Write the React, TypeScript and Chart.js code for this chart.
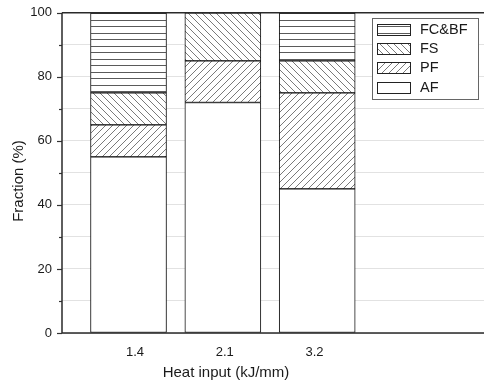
import React, { useEffect, useRef } from 'react';
import { Chart, registerables } from 'chart.js';

Chart.register(...registerables);

const categories = ['1.4', '2.1', '3.2'];
const positions = [1, 2, 3];
const seriesNames = ['AF', 'PF', 'FS', 'FC&BF'];
const AF = [55, 72, 45];
const PF = [10, 13, 30];
const FS = [10, 15, 10];
const FCBF = [25, 0, 15];
const yTickLabels = [0, 20, 40, 60, 80, 100];
const xTitle = 'Heat input (kJ/mm)';
const yTitle = 'Fraction (%)';

const FONT = 'Liberation Sans, Arial, sans-serif';

function makePattern(kind: string): CanvasPattern | string {
  if (kind === 'none') return '#ffffff';
  const c = document.createElement('canvas');
  const g = c.getContext('2d') as CanvasRenderingContext2D;
  if (kind === 'h') {
    c.width = 8;
    c.height = 13;
    g.fillStyle = '#ffffff';
    g.fillRect(0, 0, 8, 13);
    g.strokeStyle = '#5a5a5a';
    g.lineWidth = 1;
    g.beginPath();
    g.moveTo(0, 0.5);
    g.lineTo(8, 0.5);
    g.moveTo(0, 7.5);
    g.lineTo(8, 7.5);
    g.stroke();
  } else {
    const s = 7;
    c.width = s;
    c.height = s;
    g.fillStyle = '#ffffff';
    g.fillRect(0, 0, s, s);
    g.strokeStyle = '#7a7a7a';
    g.lineWidth = 1;
    g.beginPath();
    if (kind === 'b') {
      g.moveTo(-1, -1); g.lineTo(s + 1, s + 1);
      g.moveTo(-1, s - 1); g.lineTo(1, s + 1);
      g.moveTo(s - 1, -1); g.lineTo(s + 1, 1);
    } else {
      g.moveTo(-1, s + 1); g.lineTo(s + 1, -1);
      g.moveTo(-1, 1); g.lineTo(1, -1);
      g.moveTo(s - 1, s + 1); g.lineTo(s + 1, s - 1);
    }
    g.stroke();
  }
  const ctx = document.createElement('canvas').getContext('2d') as CanvasRenderingContext2D;
  return ctx.createPattern(c, 'repeat') as CanvasPattern;
}

export default function App() {
  const ref = useRef<HTMLCanvasElement | null>(null);

  useEffect(() => {
    document.body.style.margin = '0';
    const canvas = ref.current;
    if (!canvas) return;
    Chart.defaults.font.family = FONT;

    const fills = [makePattern('none'), makePattern('f'), makePattern('b'), makePattern('h')];
    const values = [AF, PF, FS, FCBF];

    const datasets = seriesNames.map((name, k) => ({
      label: name,
      data: positions.map((p, i) => ({ x: p, y: values[k][i] })),
      backgroundColor: fills[k] as any,
      borderColor: '#111111',
      borderWidth: 1,
      borderSkipped: false as any,
      barThickness: 76,
      xAxisID: 'x',
      yAxisID: 'y',
    }));

    const decor = {
      id: 'decor',
      afterDraw(chart: any) {
        const { ctx, chartArea } = chart;
        const { left, right, top, bottom } = chartArea;
        const yScale = chart.scales.y;
        ctx.save();
        ctx.strokeStyle = '#333333';
        ctx.lineWidth = 1.2;
        for (let v = 0; v <= 100; v += 10) {
          const y = Math.round(yScale.getPixelForValue(v)) + 0.5;
          const len = v % 20 === 0 ? 5 : 3;
          ctx.beginPath();
          ctx.moveTo(left - len, y);
          ctx.lineTo(left, y);
          ctx.stroke();
        }
        ctx.strokeStyle = '#2a2a2a';
        ctx.lineWidth = 1.5;
        ctx.beginPath();
        ctx.moveTo(left, top);
        ctx.lineTo(left, bottom);
        ctx.moveTo(left, bottom);
        ctx.lineTo(right, bottom);
        ctx.moveTo(left, top);
        ctx.lineTo(right, top);
        ctx.stroke();

        const lx = 372.5, ly = 18.5, lw = 106, lh = 81;
        ctx.fillStyle = '#ffffff';
        ctx.fillRect(lx, ly, lw, lh);
        ctx.strokeStyle = '#666666';
        ctx.lineWidth = 1;
        ctx.strokeRect(lx, ly, lw, lh);
        const order = [3, 2, 1, 0];
        order.forEach((k, r) => {
          const cy = 29 + r * 19.4;
          const sy = Math.round(cy - 5.5) + 0.5;
          ctx.fillStyle = fills[k] as any;
          ctx.fillRect(377.5, sy, 33, 11);
          ctx.strokeStyle = '#222222';
          ctx.lineWidth = 1;
          ctx.strokeRect(377.5, sy, 33, 11);
          ctx.fillStyle = '#1a1a1a';
          ctx.font = `14.5px ${FONT}`;
          ctx.textAlign = 'left';
          ctx.textBaseline = 'middle';
          ctx.fillText(seriesNames[k], 420, cy + 0.5);
        });

        ctx.fillStyle = '#1a1a1a';
        ctx.font = `15px ${FONT}`;
        ctx.textAlign = 'center';
        ctx.textBaseline = 'alphabetic';
        ctx.fillText(xTitle, 226, 377);
        ctx.save();
        ctx.translate(23, 181);
        ctx.rotate(-Math.PI / 2);
        ctx.fillText(yTitle, 0, 0);
        ctx.restore();
        ctx.restore();
      },
    };

    const chart = new Chart(canvas, {
      type: 'bar',
      data: { datasets: datasets as any },
      options: {
        animation: false,
        responsive: false,
        layout: { padding: { top: 12, right: 0, left: 0, bottom: 0 } },
        plugins: { legend: { display: false }, tooltip: { enabled: false } },
        scales: {
          x: {
            type: 'linear',
            display: false,
            stacked: true,
            offset: false,
            grid: { offset: false },
            min: 0.295,
            max: 4.768,
          },
          xt: {
            type: 'linear',
            position: 'bottom',
            offset: false,
            min: 0.187,
            max: 4.889,
            grid: { display: false, drawTicks: false, offset: false },
            border: { display: false },
            ticks: {
              padding: 12,
              autoSkip: false,
              maxRotation: 0,
              color: '#1a1a1a',
              font: { size: 13, family: FONT },
              callback: (v: any) => {
                const i = positions.indexOf(Number(v));
                return i >= 0 ? categories[i] : '';
              },
            },
            afterBuildTicks: (s: any) => {
              s.ticks = positions.map((v) => ({ value: v }));
            },
            afterFit: (s: any) => {
              s.height = 50;
            },
          },
          y: {
            stacked: true,
            min: 0,
            max: 100,
            ticks: {
              stepSize: 10,
              padding: 5,
              autoSkip: false,
              color: '#1a1a1a',
              font: { size: 13, family: FONT },
              callback: (v: any) => (yTickLabels.includes(Number(v)) ? String(v) : ''),
            },
            grid: { color: '#e2e2e2', lineWidth: 1, drawTicks: true, tickLength: 5, tickColor: 'rgba(0,0,0,0)' },
            border: { display: false },
            afterFit: (s: any) => {
              s.width = 62;
            },
          },
        } as any,
      },
      plugins: [decor],
    });

    return () => chart.destroy();
  }, []);

  return (
    <div style={{ width: 484, height: 383 }}>
      <canvas ref={ref} width={484} height={383} style={{ display: 'block' }} />
    </div>
  );
}
